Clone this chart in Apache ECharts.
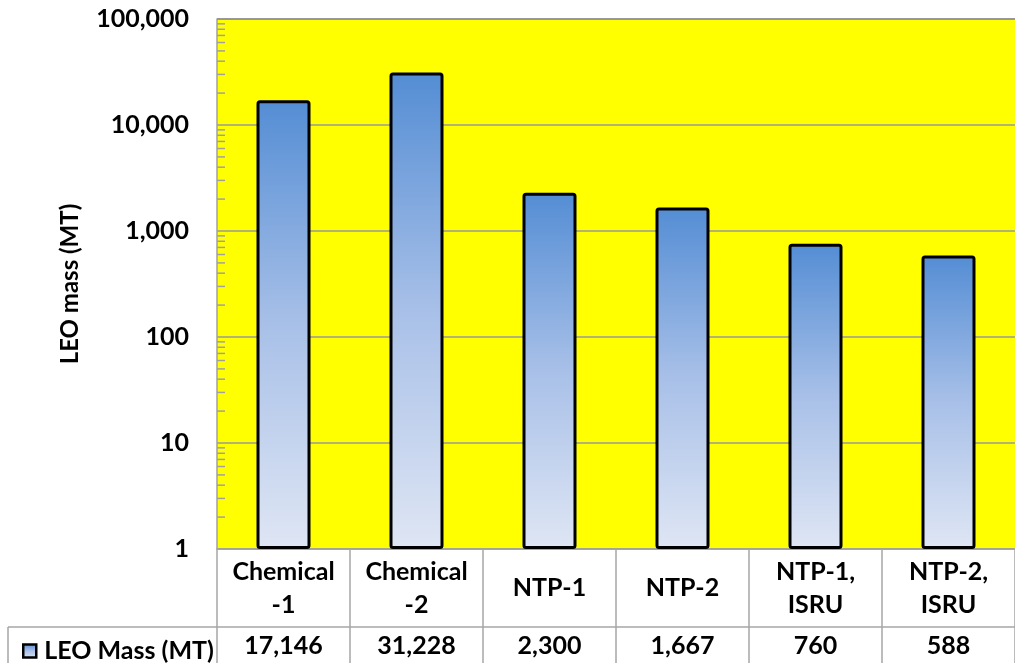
<!DOCTYPE html>
<html>
<head>
<meta charset="utf-8">
<script src="https://cdn.jsdelivr.net/npm/echarts@6/dist/echarts.min.js"></script>
<style>
html,body{margin:0;padding:0;background:#fff;}
#main{width:1015px;height:663px;}
</style>
</head>
<body>
<div id="main"></div>
<script>
const categories = ['Chemical\n-1', 'Chemical\n-2', 'NTP-1', 'NTP-2', 'NTP-1,\nISRU', 'NTP-2,\nISRU'];
const leoMass = [17146, 31228, 2300, 1667, 760, 588];
const seriesName = 'LEO Mass (MT)';
const yAxisName = 'LEO mass (MT)';
const minorTickValues = [];
[1, 10, 100, 1000, 10000].forEach(function (d) {
  for (let k = 2; k <= 9; k++) minorTickValues.push(d * k);
});

const FONT = 'Lato';
const W = 'bold';
const chart = echarts.init(document.getElementById('main'), null, {renderer: 'canvas'});
const barGradient = new echarts.graphic.LinearGradient(0, 0, 0, 1, [
  {offset: 0, color: '#548dd4'},
  {offset: 0.5, color: '#a8c0e8'},
  {offset: 1, color: '#dfe6f4'}
]);
const fmt = function (v) { return Number(v).toLocaleString('en-US'); };

chart.setOption({
  animation: false,
  backgroundColor: '#ffffff',
  grid: {left: 217, top: 19, width: 810, height: 530, show: true, backgroundColor: '#ffff00', borderWidth: 0},
  legend: {
    data: [seriesName],
    left: 17, top: 632,
    itemWidth: 13, itemHeight: 13,
    icon: 'rect',
    itemStyle: {borderWidth: 2.5, borderColor: '#000'},
    textStyle: {fontFamily: FONT, fontWeight: W, fontSize: 25, color: '#000', lineHeight: 28, padding: [0, 0, 0, 3]}
  },
  xAxis: [{
    type: 'category',
    data: categories,
    position: 'bottom',
    axisLine: {show: true, lineStyle: {color: '#a0a0a0', width: 1.5}},
    axisTick: {show: true, length: 114, lineStyle: {color: '#a6a6a6', width: 1.5}},
    axisLabel: {fontFamily: FONT, fontWeight: W, fontSize: 25, color: '#000', lineHeight: 33, margin: 39, verticalAlign: 'middle', interval: 0},
    splitLine: {show: false}
  }, {
    type: 'category',
    data: leoMass.map(fmt),
    position: 'bottom',
    gridIndex: 0,
    axisLine: {show: false},
    axisTick: {show: false},
    axisLabel: {fontFamily: FONT, fontWeight: W, fontSize: 25, color: '#000', margin: 97, verticalAlign: 'middle', interval: 0},
    splitLine: {show: false}
  }],
  yAxis: {
    type: 'log',
    logBase: 10,
    min: 1,
    max: 100000,
    name: yAxisName,
    nameLocation: 'middle',
    nameGap: 135,
    nameTextStyle: {fontFamily: FONT, fontWeight: W, fontSize: 24, color: '#000'},
    axisLine: {show: true, lineStyle: {color: '#a0a0a0', width: 1.5}},
    axisTick: {show: false},
    axisLabel: {fontFamily: FONT, fontWeight: W, fontSize: 25, color: '#000', margin: 28, formatter: fmt},
    splitLine: {show: true, lineStyle: {color: '#999999', width: 1.5}}
  },
  series: [{
    name: seriesName,
    type: 'bar',
    xAxisIndex: 0,
    data: leoMass,
    barWidth: 54,
    itemStyle: {color: barGradient, borderColor: '#000', borderWidth: 3, borderRadius: 2}
  }, {
    name: 'minorTicks',
    type: 'custom',
    xAxisIndex: 0,
    silent: true,
    z: 5,
    data: minorTickValues.map(function (v) { return [0, v]; }),
    renderItem: function (params, api) {
      const p = api.coord([0, api.value(1)]);
      const x0 = params.coordSys.x;
      return {
        type: 'line',
        shape: {x1: x0, y1: p[1], x2: x0 + 8, y2: p[1]},
        style: {stroke: '#a0a0a0', lineWidth: 1.5}
      };
    }
  }],
  graphic: [{
    type: 'line', z: 10,
    shape: {x1: 8, y1: 627, x2: 1015, y2: 627},
    style: {stroke: '#a6a6a6', lineWidth: 1.5}
  }, {
    type: 'line', z: 10,
    shape: {x1: 8, y1: 627, x2: 8, y2: 663},
    style: {stroke: '#a6a6a6', lineWidth: 1.5}
  }, {
    type: 'line', z: 10,
    shape: {x1: 217, y1: 19, x2: 1015, y2: 19},
    style: {stroke: '#909090', lineWidth: 1.5}
  }]
});
</script>
</body>
</html>
